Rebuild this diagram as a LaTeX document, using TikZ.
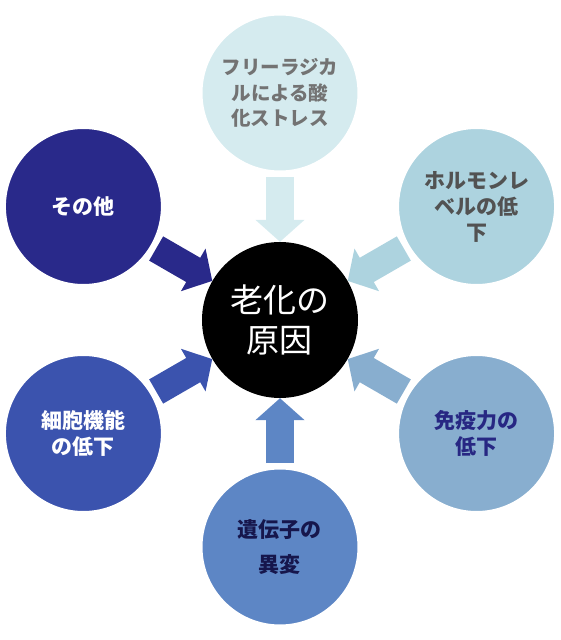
\documentclass[tikz,border=0pt]{standalone}
\usepackage{fontspec}
\setmainfont{Noto Sans CJK JP}
\usetikzlibrary{arrows.meta,backgrounds,calc}

% Colours of the causes
\definecolor{cradical}{HTML}{D5EBEF}
\definecolor{chormone}{HTML}{ADD3DF}
\definecolor{cimmune}{HTML}{88AECF}
\definecolor{cgene}{HTML}{5D86C5}
\definecolor{ccell}{HTML}{3B53AE}
\definecolor{cother}{HTML}{29298A}

\begin{document}
\begin{tikzpicture}[x=1pt,y=1pt,
    cause/.style={circle, draw=white, line width=2pt, minimum size=157pt,
        inner sep=0pt, align=center,
        font=\bfseries\fontsize{21}{26}\selectfont},
    push/.style={line width=28pt, -{Triangle[length=22pt,width=48pt]}}]
    % Define the distance to the causes
    \def\D{227}

    % Fix the canvas
    \useasboundingbox (-280,-320) rectangle (280,320);

    % 1. Draw the Centre
    \node[circle, fill=black, minimum size=156pt, inner sep=0pt, align=center,
        text=white, font=\fontsize{33}{40}\selectfont] (core) at (0,0) {老化の\\原因};

    % 2. Draw the Causes
    \node[cause, fill=cradical, text=black!55, font=\bfseries\fontsize{19.5}{25.5}\selectfont]
        (radical) at (90:\D) {フリーラジカ\\ルによる酸\\化ストレス};   % top
    \node[cause, fill=chormone, text=black!68] (hormone) at (30:\D) {ホルモンレ\\ベルの低\\下};
    \node[cause, fill=cimmune, text=cother!95!black] (immune) at (-30:\D) {免疫力の\\低下};
    \node[cause, fill=cgene, text=cother!55!black, font=\bfseries\fontsize{21}{35}\selectfont]
        (gene) at (-90:\D) {遺伝子の\\異変};                        % bottom
    \node[cause, fill=ccell, text=white] (cell) at (-150:\D) {細胞機能\\の低下};
    \node[cause, fill=cother, text=white] (other) at (150:\D) {その他};

    % 3. Draw the Arrows (behind the circles)
    \begin{scope}[on background layer]
        \foreach \n in {radical,hormone,immune,gene,cell,other}
            \draw[push, draw=c\n] ($(core)!143pt!(\n)$) -- (core);
    \end{scope}

\end{tikzpicture}
\end{document}
